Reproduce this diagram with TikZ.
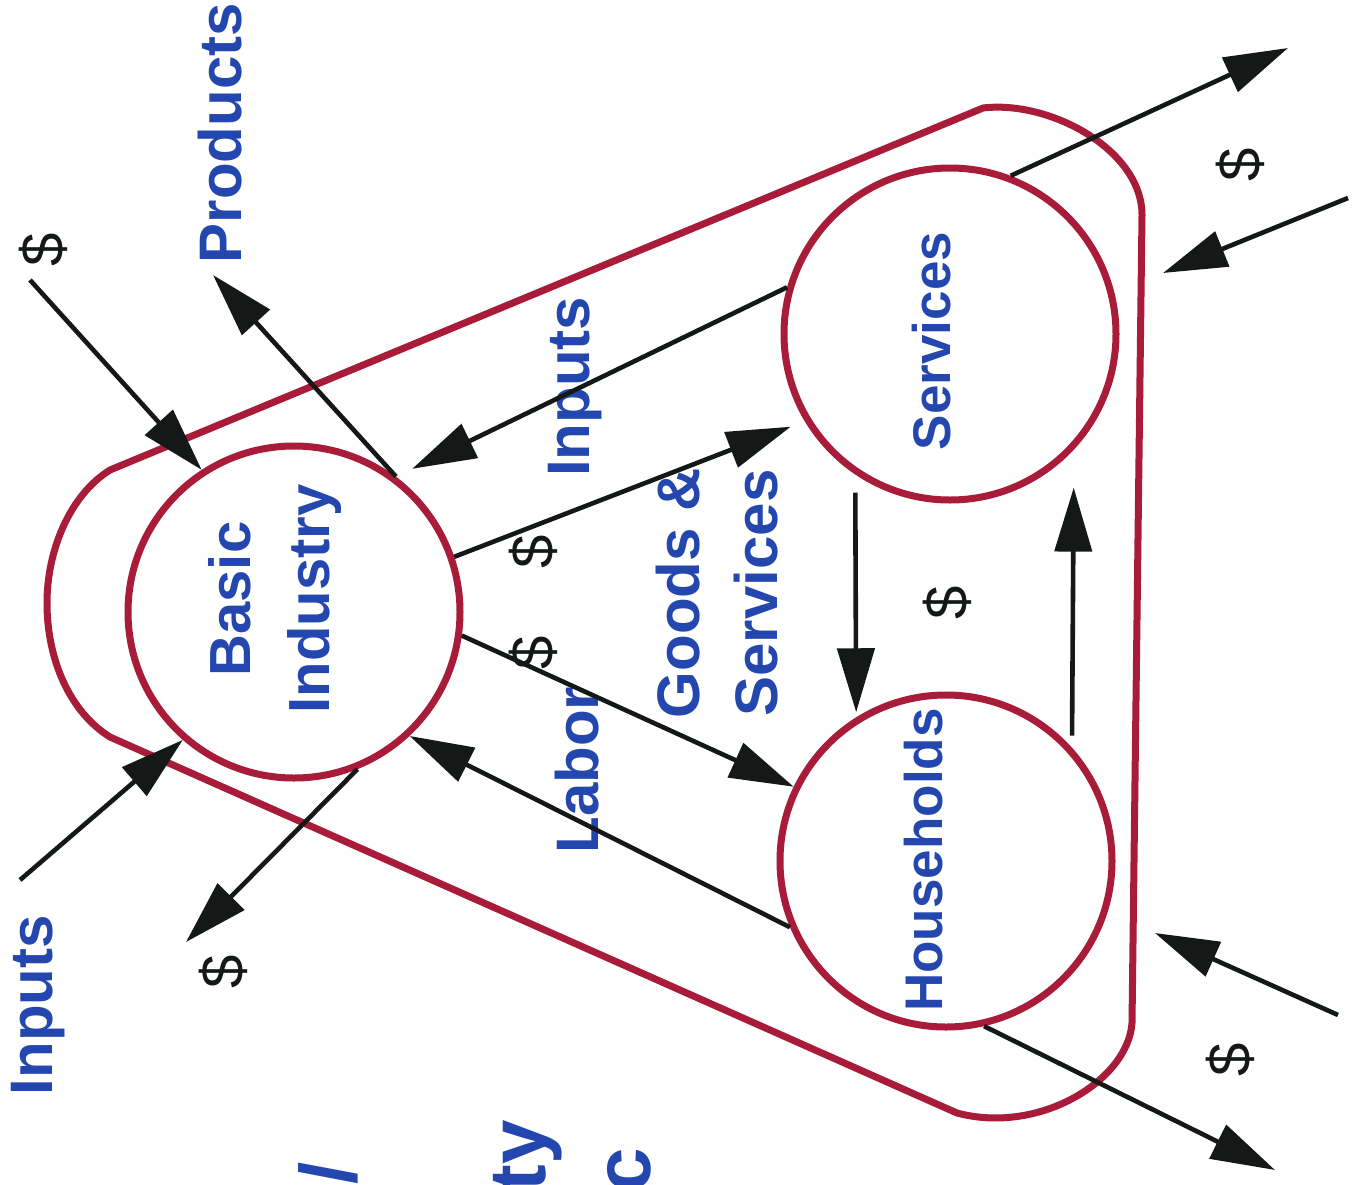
\documentclass[tikz,border=0pt]{standalone}
\usepackage{fontspec}
\setmainfont{Liberation Sans}
\usetikzlibrary{arrows.meta}
\definecolor{lblue}{RGB}{35,70,175}
\definecolor{ored}{RGB}{168,28,58}
\definecolor{ink}{RGB}{20,24,22}
\begin{document}
\begin{tikzpicture}[x=1pt,y=-1pt,
  lab/.style={text=lblue, font=\bfseries\fontsize{60}{78}\selectfont, rotate=90, inner sep=0pt, align=center},
  dol/.style={text=ink, font=\fontsize{60}{70}\selectfont, rotate=90, inner sep=0pt},
  hub/.style={circle, draw=ored, line width=7pt, fill=white, minimum size=332pt, inner sep=0pt},
  flow/.style={draw=ink, line width=4.6pt, -{Triangle[length=64pt,width=37pt]}},
  rim/.style={draw=ored, line width=7pt, line join=round}]
\useasboundingbox (0,0) rectangle (1355,1184);
\fill[white] (0,0) rectangle (1355,1184);
% outer boundary
\draw[rim] (110,470) -- (983,108) .. controls (1050,100) and (1142,150) .. (1142,215)
  -- (1132,1023) .. controls (1128,1080) and (1040,1135) .. (957,1113)
  -- (110,737) .. controls (70,712) and (47,660) .. (47,603)
  .. controls (47,550) and (70,495) .. (110,470) -- cycle;
% hubs
\node[hub] (BI) at (294,612) {};
\node[hub] (SV) at (950,334) {};
\node[hub] (HH) at (946,861) {};
% hub labels
\node[lab, font=\bfseries\fontsize{58}{79}\selectfont] (biL) at (275,599) {Basic\\Industry};
\node[lab, font=\bfseries\fontsize{53}{60}\selectfont] (svL) at (932,341) {Services};
\node[lab, font=\bfseries\fontsize{53}{60}\selectfont] (hhL) at (924,860) {Households};
% flow labels
\node[lab] (prodL) at (220,133) {Products};
\node[lab] (inL) at (38,1005) {Inputs};
\node[lab] (in2L) at (575,387) {Inputs};
\node[lab] (labL) at (577,770) {Labor};
\node[lab] (gsL) at (717,593) {Goods \&\\Services};
\node[dol] (d1) at (43,250) {\$};
\node[dol] (d2) at (223,972) {\$};
\node[dol] (d3) at (533,552) {\$};
\node[dol] (d4) at (533,653) {\$};
\node[dol] (d5) at (947,603) {\$};
\node[dol] (d6) at (1240,165) {\$};
\node[dol] (d7) at (1230,1060) {\$};
% title fragments at the bottom edge
\begin{scope}
\clip (0,0) rectangle (1355,1184);
\node[lab, font=\bfseries\fontsize{80}{80}\selectfont, anchor=base east] (t1) at (356,1162) {/};
\node[lab, font=\bfseries\fontsize{80}{80}\selectfont, anchor=base east] (t2) at (545,1120) {ty};
\node[lab, font=\bfseries\fontsize{80}{80}\selectfont, anchor=base east] (t3) at (650,1148) {c};
\end{scope}
% free ends
\coordinate (c1) at (30,280);
\coordinate (c2) at (213,275);
\coordinate (c3) at (20,880);
\coordinate (c4) at (186,942);
\coordinate (c11) at (1288,48);
\coordinate (c12a) at (1348,198);
\coordinate (c12b) at (1163,273);
\coordinate (c13) at (1275,1170);
\coordinate (c14a) at (1338,1015);
\coordinate (c14b) at (1155,933);
% flows
\draw[flow] (c1) -- (BI.123);
\draw[flow] (BI.53) -- (c2);
\draw[flow] (c3) -- (BI.229);
\draw[flow] (BI.292) -- (c4);
\draw[flow, shorten >=18pt] (SV.164) -- (BI.53);
\draw[flow, shorten >=15pt] (BI.19) -- (SV.211);
\draw[flow] (BI.352) -- (HH.154);
\draw[flow] (HH.203) -- (BI.313);
\draw[flow, shorten <=18pt, shorten >=5pt] (SV.236) -- (HH.122);
\draw[flow, shorten <=12pt, shorten >=38pt] (HH.42) -- (SV.317);
\draw[flow] (SV.69) -- (c11);
\draw[flow] (c12a) -- (c12b);
\draw[flow] (HH.283) -- (c13);
\draw[flow] (c14a) -- (c14b);
\end{tikzpicture}
\end{document}
